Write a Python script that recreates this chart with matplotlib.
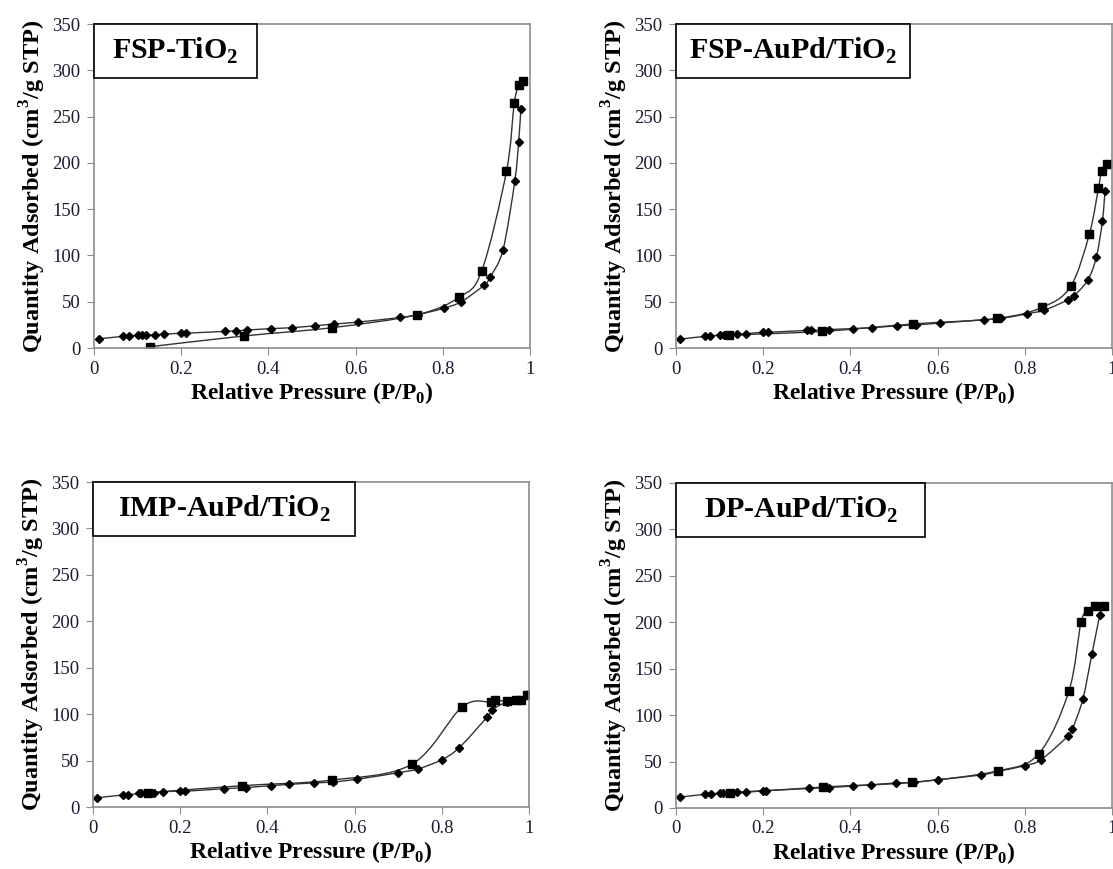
import matplotlib
matplotlib.use("Agg")
import matplotlib.pyplot as plt
import numpy as np
from matplotlib.patches import Rectangle, PathPatch
from matplotlib.path import Path

# FSP-TiO2
fsp_ads_x = [0.012, 0.066, 0.08, 0.10, 0.11, 0.12, 0.14, 0.16, 0.20, 0.21, 0.30, 0.326, 0.35,
             0.407, 0.453, 0.506, 0.551, 0.605, 0.702, 0.743, 0.802, 0.842, 0.895, 0.909,
             0.938, 0.965, 0.974, 0.979]
fsp_ads_y = [10, 12.6, 13, 14, 14, 14, 14.3, 15, 16, 16, 18, 18.5, 19.4,
             21, 22, 24, 26, 28, 33, 36, 43, 50, 68, 77,
             106, 180, 223, 258]
fsp_des_x = [0.983, 0.975, 0.964, 0.946, 0.889, 0.838, 0.741, 0.546, 0.343, 0.128]
fsp_des_y = [289, 284, 265, 191, 83, 55, 36, 22, 13, 1.4]

# FSP-AuPd/TiO2
fspa_ads_x = [0.01, 0.066, 0.079, 0.10, 0.11, 0.14, 0.16, 0.20, 0.21, 0.30, 0.31, 0.35,
              0.407, 0.45, 0.506, 0.55, 0.605, 0.706, 0.746, 0.805, 0.845, 0.899, 0.913,
              0.944, 0.964, 0.978, 0.984]
fspa_ads_y = [9.7, 12.6, 13, 14, 14, 15, 15.5, 17, 17, 19, 19, 20,
              21, 22, 24, 25, 27, 30.5, 32, 37, 41, 52, 56.5,
              73, 98, 137, 170]
fspa_des_x = [0.988, 0.976, 0.969, 0.948, 0.905, 0.84, 0.736, 0.543, 0.335, 0.121]
fspa_des_y = [199, 191, 173, 123, 66.5, 44, 32, 26, 18, 14]

# IMP-AuPd/TiO2
imp_ads_x = [0.01, 0.068, 0.08, 0.105, 0.11, 0.14, 0.16, 0.20, 0.21, 0.30, 0.35, 0.408,
             0.45, 0.506, 0.55, 0.606, 0.70, 0.745, 0.80, 0.84, 0.904, 0.916, 0.949,
             0.977, 0.998]
imp_ads_y = [10, 13, 13, 14.7, 14.7, 15, 16.5, 17, 17, 19.7, 21, 23,
             24.4, 26, 27, 30, 37, 41, 51, 64, 97, 105, 113,
             115, 122]
imp_des_x = [0.995, 0.981, 0.971, 0.949, 0.922, 0.912, 0.847, 0.731, 0.547, 0.341, 0.127]
imp_des_y = [121, 115.6, 115.6, 114, 115, 113, 108, 46, 29, 23, 15.4]

# DP-AuPd/TiO2
dp_ads_x = [0.01, 0.066, 0.08, 0.10, 0.108, 0.14, 0.16, 0.20, 0.207, 0.304, 0.35, 0.406,
            0.448, 0.504, 0.546, 0.60, 0.699, 0.739, 0.80, 0.837, 0.898, 0.909, 0.933,
            0.954, 0.972]
dp_ads_y = [11.8, 14.7, 15, 16, 16, 17, 17.5, 18.7, 18.7, 21, 22, 23.7,
            25, 27, 27.6, 30.5, 35.5, 39.5, 45.6, 52, 77, 85, 117,
            166, 208]
dp_des_x = [0.982, 0.962, 0.945, 0.929, 0.901, 0.832, 0.739, 0.542, 0.337, 0.123]
dp_des_y = [218, 217, 212, 200, 125.6, 58.5, 40, 27.6, 22.6, 15.8]

titles = ['FSP-TiO$_\\mathbf{2}$', 'FSP-AuPd/TiO$_\\mathbf{2}$',
          'IMP-AuPd/TiO$_\\mathbf{2}$', 'DP-AuPd/TiO$_\\mathbf{2}$']
box_widths = [0.374, 0.536, 0.602, 0.572]
panels = [(fsp_ads_x, fsp_ads_y, fsp_des_x, fsp_des_y),
          (fspa_ads_x, fspa_ads_y, fspa_des_x, fspa_des_y),
          (imp_ads_x, imp_ads_y, imp_des_x, imp_des_y),
          (dp_ads_x, dp_ads_y, dp_des_x, dp_des_y)]
positions = [[0.0845, 0.5995, 0.3917, 0.3728],
             [0.6074, 0.5995, 0.3917, 0.3728],
             [0.0836, 0.0713, 0.3917, 0.3740],
             [0.6074, 0.0702, 0.3917, 0.3740]]


def smooth_path(xs, ys, yscale=350.0):
    # Excel-like smoothed line: Bezier segments through the data points
    p = np.column_stack([np.asarray(xs, float), np.asarray(ys, float) / yscale])
    verts = [tuple(p[0])]
    codes = [Path.MOVETO]
    n = len(p)
    for k in range(n - 1):
        p0 = p[k - 1] if k > 0 else p[k]
        p1, p2 = p[k], p[k + 1]
        p3 = p[k + 2] if k + 2 < n else p[k + 1]
        c1 = p1 + (p2 - p0) / 6.0
        c2 = p2 - (p3 - p1) / 6.0
        verts += [tuple(c1), tuple(c2), tuple(p2)]
        codes += [Path.CURVE4] * 3
    verts = [(vx, vy * yscale) for vx, vy in verts]
    return Path(verts, codes)


plt.rcParams['font.family'] = ['Liberation Serif', 'DejaVu Serif']
plt.rcParams['mathtext.fontset'] = 'custom'
plt.rcParams['mathtext.rm'] = 'Liberation Serif'
plt.rcParams['mathtext.bf'] = 'Liberation Serif:bold'

fig = plt.figure(figsize=(11.13, 8.69), dpi=100)
tick_col = '#1c1c30'
spine_col = '#8c8c8c'
line_col = '#333333'

for i in range(4):
    ax = fig.add_axes(positions[i])
    ax_x, ax_y, de_x, de_y = panels[i]
    for xs, ys in [(ax_x, ax_y), (de_x, de_y)]:
        ax.add_patch(PathPatch(smooth_path(xs, ys), fill=False, edgecolor=line_col, lw=1.0))
    ax.plot(ax_x, ax_y, ls='none', marker='D', ms=3.8, mfc='black', mec='black')
    ax.plot(de_x, de_y, ls='none', marker='s', ms=5.8, mfc='black', mec='black')
    ax.set_xlim(0, 1)
    ax.set_ylim(0, 350)
    ax.set_xticks([0, 0.2, 0.4, 0.6, 0.8, 1])
    ax.set_xticklabels(['0', '0.2', '0.4', '0.6', '0.8', '1'])
    ax.set_yticks(range(0, 351, 50))
    for s in ax.spines.values():
        s.set_color(spine_col)
        s.set_linewidth(1.2)
    ax.tick_params(direction='out', length=5, color=spine_col, labelsize=13.5,
                   labelcolor=tick_col, pad=5)
    ax.tick_params(axis='x', pad=4)
    ax.set_xlabel('Relative Pressure (P/P$_\\mathbf{0}$)', fontsize=17, fontweight='bold', labelpad=2)
    ax.set_ylabel('Quantity Adsorbed (cm$^\\mathbf{3}$/g STP)', fontsize=17.5, fontweight='bold', labelpad=3)
    ax.add_patch(Rectangle((0, 292 / 350), box_widths[i], 58 / 350, transform=ax.transAxes,
                           fill=True, facecolor='white', edgecolor='black', lw=1.2,
                           clip_on=False, zorder=5))
    ax.text(box_widths[i] / 2, 321 / 350, titles[i], transform=ax.transAxes,
            ha='center', va='center', fontsize=21.5, fontweight='bold', zorder=6)

fig.savefig('out.png', dpi=100)
